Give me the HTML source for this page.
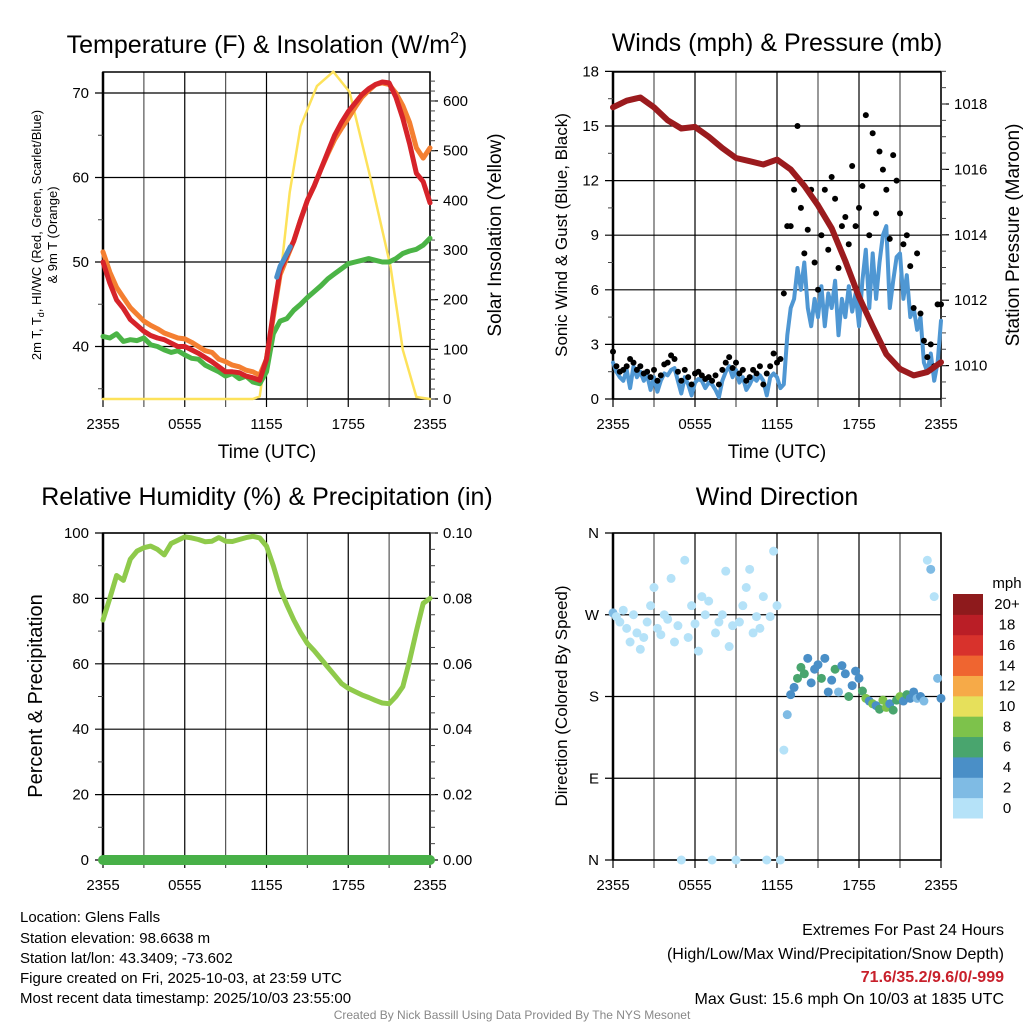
<!DOCTYPE html>
<html><head><meta charset="utf-8"><title>Glens Falls Meteogram</title>
<style>
html,body{margin:0;padding:0;background:#fff;}
svg{display:block;font-family:"Liberation Sans",Arial,sans-serif;}
</style></head>
<body>
<svg id="chart" width="1024" height="1024" viewBox="0 0 1024 1024" xmlns="http://www.w3.org/2000/svg">
<rect x="0" y="0" width="1024" height="1024" fill="#fff"/>
<text x="267" y="53" font-size="25" text-anchor="middle">Temperature (F) &amp; Insolation (W/m<tspan dy="-10" font-size="16">2</tspan><tspan dy="10">)</tspan></text>
<text x="777" y="51" font-size="25" text-anchor="middle">Winds (mph) &amp; Pressure (mb)</text>
<text x="267" y="505" font-size="25" text-anchor="middle">Relative Humidity (%) &amp; Precipitation (in)</text>
<text x="777" y="505" font-size="25" text-anchor="middle">Wind Direction</text>
<text x="267" y="458" font-size="19" text-anchor="middle">Time (UTC)</text>
<text x="777" y="458" font-size="19" text-anchor="middle">Time (UTC)</text>
<g font-size="13" text-anchor="middle">
<text transform="translate(41,235) rotate(-90)">2m T, T<tspan font-size="9" dy="3">d</tspan><tspan dy="-3">, HI/WC (Red, Green, Scarlet/Blue)</tspan></text>
<text transform="translate(57,235) rotate(-90)">&amp; 9m T (Orange)</text>
</g>
<text transform="translate(501,235) rotate(-90)" font-size="19" text-anchor="middle">Solar Insolation (Yellow)</text>
<text transform="translate(567,235) rotate(-90)" font-size="17" text-anchor="middle">Sonic Wind &amp; Gust (Blue, Black)</text>
<text transform="translate(1019,235) rotate(-90)" font-size="19" text-anchor="middle">Station Pressure (Maroon)</text>
<text transform="translate(42,696) rotate(-90)" font-size="20" text-anchor="middle">Percent &amp; Precipitation</text>
<text transform="translate(567,696) rotate(-90)" font-size="17" text-anchor="middle">Direction (Colored By Speed)</text>
<g font-size="15">
<text x="20" y="922">Location: Glens Falls</text>
<text x="20" y="943">Station elevation: 98.6638 m</text>
<text x="20" y="963">Station lat/lon: 43.3409; -73.602</text>
<text x="20" y="983">Figure created on Fri, 2025-10-03, at 23:59 UTC</text>
<text x="20" y="1003">Most recent data timestamp: 2025/10/03 23:55:00</text>
</g>
<g font-size="16" text-anchor="end">
<text x="1004" y="935">Extremes For Past 24 Hours</text>
<text x="1004" y="959">(High/Low/Max Wind/Precipitation/Snow Depth)</text>
<text x="1004" y="982" fill="#c8202b" font-weight="bold">71.6/35.2/9.6/0/-999</text>
<text x="1004" y="1004">Max Gust: 15.6 mph On 10/03 at 1835 UTC</text>
</g>
<text x="512" y="1019" font-size="12" fill="#888" text-anchor="middle">Created By Nick Bassill Using Data Provided By The NYS Mesonet</text>
<g id="marks"></g>
</svg>
<script>
// ---- data (half-hourly unless noted) ----
const xTickLabels = ["2355","0555","1155","1755","2355"];
const temp2m = [50,47.5,45.5,44.5,43.2,42.5,41.8,41.3,41,40.8,40.4,40,40,39.6,39.2,38.7,38.2,37.6,37,37,36.9,36.5,36.3,36,38.5,44,49,50.8,52.5,55,57.3,59,61,63,65,66.5,67.8,68.8,69.8,70.5,71,71.3,71.2,69.5,67,64,60.5,59.5,57];
const temp9m = [51.2,48.8,47,45.8,44.6,43.8,43,42.5,42.1,41.6,41.3,41,40.9,40.5,40,39.5,39.3,38.5,38.2,37.8,37.6,37.2,37,36.6,38.5,43.5,48.5,50.5,52.5,55,57.3,59,61,62.8,64.5,65.8,67,68.3,69.5,70.3,71,71.2,71,70,68.5,66.5,63.5,62.3,63.5];
const dewpoint = [41.2,41,41.5,40.6,40.8,40.7,41,40.2,40,39.6,39.3,39.5,39,38.6,38.5,37.8,37.4,37,36.5,36.8,36.2,36.5,35.8,35.6,37,41.5,43,43.3,44.3,45,45.8,46.5,47.2,48,48.6,49.2,49.8,50,50.2,50.4,50.2,50,50,50.4,51,51.3,51.5,52,52.8];
const heatIndexHours = [12.75,13,13.25,13.5,13.75];
const heatIndex = [48.2,49.5,50.2,51,51.8];
const solarHours = [0,11,11.5,12,13,13.7,14.5,15.7,16.9,18.1,19.6,21.1,22,23,24];
const solar = [0,0,5,99,240,416,549,630,659,618,448,267,99,4,0];
const tempTicks = [40,50,60,70];
const solarTicks = [0,100,200,300,400,500,600];
// quarter-hourly wind
const windSpeed = [2.0,1.5,1.2,1.0, 1.6,0.6,1.8,1.2, 1.5,1.0,1.3,0.5, 1.2,0.4,1.0,1.4, 1.3,1.6,1.7,1.0, 0.3,1.2,0.8,0.2, 0.9,1.1,1.0,0.6, 0.9,0.8,0.5,0.1, 1.0,1.5,1.8,1.2, 1.6,0.9,1.2,0.5, 0.8,1.2,1.0,1.3, 1.0,0.2,1.2,1.4, 1.2,0.6,0.8,3.5, 5.0,5.5,7.2,6.0, 7.5,5.0,4.0,5.5, 4.5,6.2,4.0,5.8, 5.0,6.5,3.5,5.5, 4.5,6.2,4.8,5.8, 4.0,6.5,8.2,5.0, 8.0,5.5,7.5,9.0, 9.5,5.0,6.5,7.8, 8.0,5.5,6.8,4.5, 5.0,3.8,4.5,2.0, 1.5,2.5,1.0,2.0, 4.3];
const windGust = [2.6,1.8,1.5,1.6, 1.8,2.2,2.0,1.6, 1.8,1.4,1.5,1.2, 1.6,1.0,1.3,1.9, 2.0,2.4,2.2,1.5, 1.0,1.6,1.2,0.8, 1.4,1.5,1.3,1.1, 1.2,1.0,1.3,0.8, 1.6,2.0,2.3,1.7, 2.0,1.4,1.6,1.0, 1.2,1.6,1.4,1.8, 0.8,1.4,1.8,2.5, 2.0,2.2,5.8,9.5, 9.5,11.5,15.0,10.5, 8.0,9.3,11.5,7.5, 6.0,9.0,11.5,8.2, 12.2,11.0,7.2,9.5, 10.0,8.5,12.8,9.5, 10.5,11.7,15.6,9.0, 14.6,10.2,13.6,12.6, 11.5,8.8,13.4,12.0, 10.2,8.5,9.0,7.3, 5.0,8.0,4.7,3.2, 2.3,3.0,1.8,5.2, 5.2];
const windDir = [272,268,262,275, 255,240,270,250, 232,245,262,280, 300,255,248,270, 265,310,240,258, 0,330,245,280, 260,230,290,270, 285,0,250,262, 270,318,235,258, 0,262,280,300, 320,250,268,255, 290,0,268,340, 280,0,121,160, 182,190,200,212, 205,222,195,210, 215,200,222,185, 198,210,185,214, 205,180,192,208, 200,186,178,175, 172,170,166,176, 168,172,165,176, 180,175,182,178, 185,178,180,175, 330,320,290,200, 178];
const windTicks = [0,3,6,9,12,15,18];
// hourly pressure
const pressure = [1017.9,1018.1,1018.2,1017.9,1017.5,1017.25,1017.3,1017.0,1016.65,1016.35,1016.25,1016.15,1016.3,1016.0,1015.5,1014.9,1014.2,1013.2,1012.1,1011.2,1010.35,1009.9,1009.7,1009.8,1010.1];
const pressureTicks = [1010,1012,1014,1016,1018];
const humidity = [73.4,80,87,85.5,92,94.5,95.5,96,95,93.3,96.8,97.8,98.8,98.5,98,97.3,97.5,98.6,97.5,97.4,98,98.6,99,98.5,96,90,83,78,73.4,69.5,66.2,64,61.5,59,56.5,54,52.5,51.5,50.5,49.7,48.8,48,47.8,50,53,61,70,78.5,80];
const precip = [0,0,0,0,0,0,0,0,0,0,0,0,0,0,0,0,0,0,0,0,0,0,0,0,0];
const rhTicks = [0,20,40,60,80,100];
const precipTicks = [0,0.02,0.04,0.06,0.08,0.10];
const dirLabels = ["N","E","S","W","N"];
const dirTicks = [0,90,180,270,360];
const speedBins = ["0","2","4","6","8","10","12","14","16","18","20+"];
const binColors = ["#b5e2f8","#7fbbe4","#4a8fc7","#49a56e","#7dc24b","#e6e05b","#f6aa48","#ef6530","#d8322c","#ba1e26","#8e1a1c"];

// ---- helpers ----
const NS="http://www.w3.org/2000/svg";
const root=document.getElementById("marks");
function mk(tag,attrs,parent){const e=document.createElementNS(NS,tag);for(const k in attrs)e.setAttribute(k,attrs[k]);(parent||root).appendChild(e);return e;}
const P1={x0:103,x1:430,y0:72,y1:399}, P2={x0:613,x1:941,y0:72,y1:399}, P3={x0:103,x1:430,y0:533,y1:860}, P4={x0:613,x1:941,y0:533,y1:860};
function xh(P,h){return P.x0+h*(P.x1-P.x0)/24;}
const yT=v=>93+(70-v)*8.45, yS=v=>399-v*0.4967;
const yW=v=>399-v*18.2, yP=p=>104+(1018-p)*32.7;
const yR=v=>860-v*3.27, yPr=v=>860-v*3270;
const yD=d=>860-d*327/360;

function frame(P,name,hLines){
  const g=mk("g",{});
  
  
  for(let i=0;i<=8;i++){const x=xh(P,i*3);
    const l=mk("line",{x1:x,x2:x,y1:P.y0,y2:P.y1+8,stroke:i%2?"#555":"#000","stroke-width":1.2},g);
    
    }
  hLines.forEach(y=>{const l=mk("line",{x1:P.x0-8,x2:P.x1,y1:y,y2:y,stroke:"#000","stroke-width":1.2},g);
    
    });
  const r=mk("rect",{x:P.x0,y:P.y0,width:P.x1-P.x0,height:P.y1-P.y0,fill:"none",stroke:"#000","stroke-width":1.5},g);
  
  
  mk("line",{x1:P.x0,x2:P.x0,y1:P.y0,y2:P.y1,stroke:"#000","stroke-width":2.5},g);
  xTickLabels.forEach((t,i)=>{const tx=mk("text",{x:xh(P,i*6),y:P.y1+30,"font-size":15,"text-anchor":"middle"},g);tx.textContent=t;
    
    });
}
function leftLabels(P,vals,fy,fmt){vals.forEach(v=>{const t=mk("text",{x:P.x0-14,y:fy(v)+5,"font-size":15,"text-anchor":"end"});t.textContent=fmt?fmt(v):v;
  
  });}
function rightAxis(P,vals,fy,fmt,minor){vals.forEach(v=>{const y=fy(v);mk("line",{x1:P.x1,x2:P.x1+8,y1:y,y2:y,stroke:"#000","stroke-width":1.2});
  const t=mk("text",{x:P.x1+13,y:y+5,"font-size":15});t.textContent=fmt?fmt(v):v;
  
  });
  minor.forEach(v=>{const y=fy(v);mk("line",{x1:P.x1,x2:P.x1+5,y1:y,y2:y,stroke:"#444","stroke-width":1});});}
function minorLeft(P,vals,fy){vals.forEach(v=>{const y=fy(v);mk("line",{x1:P.x0-5,x2:P.x0,y1:y,y2:y,stroke:"#444","stroke-width":1});});}
function pathFrom(P,vals,step,fy,t0){return vals.map((v,i)=>(i?"L":"M")+xh(P,(t0||0)+i*step).toFixed(1)+","+fy(v).toFixed(1)).join("");}
function line(d,color,w,name){const p=mk("path",{d:d,fill:"none",stroke:color,"stroke-width":w,"stroke-linejoin":"round","stroke-linecap":"round"});
  
  return p;}
function range(a,b,s){const r=[];for(let v=a;v<=b+1e-9;v+=s)r.push(+v.toFixed(4));return r;}

// ---- Panel 1: temperature ----
frame(P1,"temperature-panel",tempTicks.map(yT));
leftLabels(P1,tempTicks,yT);
minorLeft(P1,[35,45,55,65],yT);
rightAxis(P1,solarTicks,yS,null,range(0,640,20));
line(solarHours.map((h,i)=>(i?"L":"M")+xh(P1,h).toFixed(1)+","+yS(solar[i]).toFixed(1)).join(""),"#fde25a",2.5,"solar-insolation-line");
line(pathFrom(P1,dewpoint,0.5,yT),"#4bb446",5,"dewpoint-line");
line(pathFrom(P1,temp9m,0.5,yT),"#f47f31",5,"temp-9m-line");
line(pathFrom(P1,temp2m,0.5,yT),"#d6232a",5,"temp-2m-line");
line(heatIndexHours.map((h,i)=>(i?"L":"M")+xh(P1,h).toFixed(1)+","+yT(heatIndex[i]).toFixed(1)).join(""),"#4a8fc9",5,"heat-index-line");

// ---- Panel 2: winds & pressure ----
frame(P2,"wind-panel",windTicks.map(yW));
leftLabels(P2,windTicks,yW);
minorLeft(P2,range(1.5,16.5,3),yW);
rightAxis(P2,pressureTicks,yP,null,range(1009,1019,0.5));
line(pathFrom(P2,windSpeed,0.25,yW),"#4f97d3",4,"sustained-wind-line");
windGust.forEach((v,i)=>{const c=mk("circle",{cx:xh(P2,i*0.25),cy:yW(v),r:3,fill:"#000"});
  
  });
line(pathFrom(P2,pressure,1,yP),"#9b1b1e",6,"pressure-line");

// ---- Panel 3: humidity ----
frame(P3,"humidity-panel",rhTicks.map(yR));
leftLabels(P3,rhTicks,yR);
minorLeft(P3,[10,30,50,70,90],yR);
rightAxis(P3,precipTicks,yPr,v=>v.toFixed(2),range(0,0.1,0.005));
line(pathFrom(P3,humidity,0.5,yR),"#8fca4b",5,"humidity-line");
line(pathFrom(P3,precip,1,yPr),"#48b048",10,"precipitation-line");

// ---- Panel 4: wind direction ----
frame(P4,"direction-panel",dirTicks.map(yD));
dirTicks.forEach((d,i)=>{const t=mk("text",{x:P4.x0-14,y:yD(d)+5,"font-size":15,"text-anchor":"end"});t.textContent=dirLabels[i];
  
  });
windDir.forEach((d,i)=>{const b=Math.min(10,Math.floor(windSpeed[i]/2));
  const c=mk("circle",{cx:xh(P4,i*0.25),cy:yD(d),r:4.5,fill:binColors[b]});
  
  });
// colorbar
const cbTop=594, cbH=224/11;
const mph=mk("text",{x:1007,y:588,"font-size":15,"text-anchor":"middle"});mph.textContent="mph";


speedBins.forEach((lab,i)=>{const y=cbTop+(10-i)*cbH;
  const r=mk("rect",{x:953,y:y,width:30,height:cbH+0.5,fill:binColors[i]});
  
  
  const t=mk("text",{x:1007,y:y+cbH/2+5,"font-size":15,"text-anchor":"middle"});t.textContent=lab;
  
  });
</script>
</body></html>
